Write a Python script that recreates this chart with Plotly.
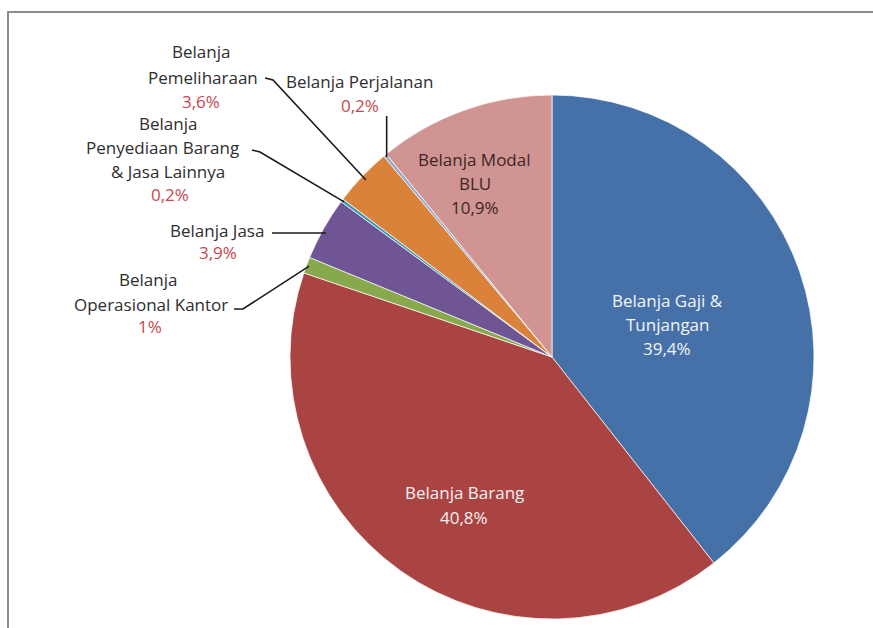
import math
import plotly.graph_objects as go

W, H = 873, 628

categories = [
    "Belanja Gaji & Tunjangan",
    "Belanja Barang",
    "Belanja Operasional Kantor",
    "Belanja Jasa",
    "Belanja Penyediaan Barang & Jasa Lainnya",
    "Belanja Pemeliharaan",
    "Belanja Perjalanan",
    "Belanja Modal BLU",
]
values = [39.4, 40.8, 1.0, 3.9, 0.2, 3.6, 0.2, 10.9]
pct_labels = ["39,4%", "40,8%", "1%", "3,9%", "0,2%", "3,6%", "0,2%", "10,9%"]
colors = ["#4671A8", "#A94443", "#87A84C", "#6F5593", "#3F99B2", "#DA8239", "#91A9D0", "#D09593"]

# pie geometry (pixels)
CX, CY, R = 552, 357, 262

def px(x):
    return x / W

def py(y):
    return 1 - y / H

fig = go.Figure(go.Pie(
    labels=categories,
    values=values,
    sort=False,
    direction="clockwise",
    rotation=0,
    marker=dict(colors=colors, line=dict(color="rgba(255,255,255,0.7)", width=1)),
    textinfo="none",
    hoverinfo="label+percent",
    showlegend=False,
    domain=dict(x=[px(CX - R), px(CX + R)], y=[py(CY + R), py(CY - R)]),
))

FONT = "Open Sans"
FS = 17
RED = "#C8464F"
DARK = "#2E2E2E"

annotations = []
def add_text(text, x, y, color=DARK, size=FS):
    annotations.append(dict(
        text=text, x=px(x), y=py(y), xref="paper", yref="paper",
        xanchor="center", yanchor="middle", showarrow=False,
        font=dict(family=FONT, size=size, color=color),
    ))

# inside labels
add_text("Belanja Gaji &", 667, 300, "#F2F4F8")
add_text("Tunjangan", 667, 324, "#F2F4F8")
add_text(pct_labels[0], 667, 348, "#F2F4F8")

add_text("Belanja Barang", 464, 492, "#F8F0F0")
add_text(pct_labels[1], 464, 517, "#F8F0F0")

add_text("Belanja Modal", 475, 159, "#3E2525")
add_text("BLU", 475, 183, "#3E2525")
add_text(pct_labels[7], 475, 207, "#3E2525")

# outside labels
add_text("Belanja", 201, 51)
add_text("Pemeliharaan", 203, 77)
add_text(pct_labels[5], 201, 101, RED)

add_text("Belanja Perjalanan", 359, 82)
add_text(pct_labels[6], 360, 105, RED)

add_text("Belanja", 168, 124)
add_text("Penyediaan Barang", 162, 148)
add_text("& Jasa Lainnya", 168, 171)
add_text(pct_labels[4], 170, 194, RED)

add_text("Belanja Jasa", 217, 230)
add_text(pct_labels[3], 218, 252, RED)

add_text("Belanja", 148, 279)
add_text("Operasional Kantor", 151, 304)
add_text(pct_labels[2], 150, 326, RED)

# leader lines: end at slice edge midpoint computed from data
total = sum(values)
def edge_point(i, frac_r=1.0):
    cum = sum(values[:i]) + values[i] / 2
    theta = math.radians(90 - 360 * cum / total)
    return CX + R * frac_r * math.cos(theta), CY - R * frac_r * math.sin(theta)

shapes = []
def leader(points):
    d = "M " + " L ".join(f"{px(x)},{py(y)}" for x, y in points)
    shapes.append(dict(type="path", path=d, xref="paper", yref="paper",
                       line=dict(color="#1a1a1a", width=1.6)))

ex, ey = edge_point(5, 0.98)
leader([(265, 78), (273, 80), (ex, ey)])
ex, ey = edge_point(6, 0.99)
leader([(ex, 116), (ex, ey)])
ex, ey = edge_point(4, 0.99)
leader([(252, 150), (260, 152), (ex, ey)])
ex, ey = edge_point(3, 0.99)
leader([(272, 233), (ex, 233)])
ex, ey = edge_point(2, 0.99)
leader([(234, 309), (243, 309), (ex, ey)])

# outer frame
shapes.append(dict(type="rect", xref="paper", yref="paper",
                   x0=px(8), x1=px(W + 5), y0=py(H + 5), y1=py(12),
                   line=dict(color="#8C8C8C", width=2), layer="below"))

fig.update_layout(
    width=W, height=H,
    margin=dict(l=0, r=0, t=0, b=0),
    paper_bgcolor="white",
    plot_bgcolor="white",
    annotations=annotations,
    shapes=shapes,
)

fig.write_html("out.html")
